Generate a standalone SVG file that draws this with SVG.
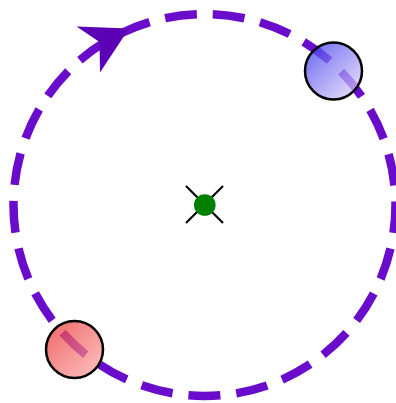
<svg xmlns="http://www.w3.org/2000/svg" width="396" height="403" viewBox="0 0 396 403">
<defs>
<linearGradient id="gBlue" x1="0" y1="0" x2="1" y2="1">
<stop offset="0" stop-color="#3030ec"/>
<stop offset="1" stop-color="#f0e0fa"/>
</linearGradient>
<linearGradient id="gRed" x1="0" y1="0" x2="1" y2="1">
<stop offset="0" stop-color="#e83030"/>
<stop offset="1" stop-color="#ffb0b0"/>
</linearGradient>
<style>
.orbit{fill:none;stroke:#6a0ccb;stroke-width:8.5;stroke-dasharray:32 16;stroke-dashoffset:4}
.ball{stroke:#000;stroke-width:2.5}
.ballfill{fill-opacity:0.74}
.cross{stroke:#000;stroke-width:2.2}
</style>
</defs>
<g id="connectors">
<circle class="orbit" cx="204.5" cy="205" r="191"/>
<polygon points="129,28.5 76.5,26.5 99.5,42 100,72.5" fill="#5c00b5"/>
</g>
<g id="center">
<line class="cross" x1="186" y1="186" x2="223" y2="223"/>
<line class="cross" x1="223" y1="186" x2="186" y2="223"/>
<circle cx="204.8" cy="205" r="10.8" fill="#008000"/>
</g>
<g id="blueBall">
<circle class="ballfill" cx="333.5" cy="71" r="28.5" fill="url(#gBlue)"/>
<circle class="ball" cx="333.5" cy="71" r="28.5" fill="none"/>
</g>
<g id="redBall">
<circle class="ballfill" cx="74.5" cy="349.5" r="28.5" fill="url(#gRed)"/>
<circle class="ball" cx="74.5" cy="349.5" r="28.5" fill="none"/>
</g>
</svg>
